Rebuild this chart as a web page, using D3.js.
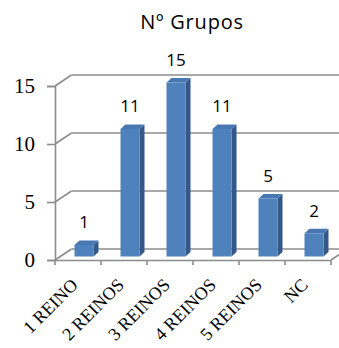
<!DOCTYPE html>
<html>
<head>
<meta charset="utf-8">
<script src="https://cdn.jsdelivr.net/npm/d3@7"></script>
<style>
  html, body { margin: 0; padding: 0; background: #fff; }
  svg { display: block; }
</style>
</head>
<body>
<svg id="chart" width="339" height="348"></svg>
<script>
// Number of groups per answer
const categories = ["1 REINO", "2 REINOS", "3 REINOS", "4 REINOS", "5 REINOS", "NC"];
const groups = [1, 11, 15, 11, 5, 2];
const yTicks = [0, 5, 10, 15];
const chartTitle = "Nº Grupos";

const SERIF = "'Liberation Serif', 'Times New Roman', serif";
const SANS = "'Open Sans', 'Noto Sans', sans-serif";

const svg = d3.select("#chart");
const W = 339, H = 348;

// Front plane of the 3D box
const x = d3.scaleBand().domain(categories).range([55, 331]).padding(0);
const y = d3.scaleLinear().domain([0, 15]).range([260, 86]);

// Depth offset of the back wall / floor
const dX = 16.5, dY = -11;
// Bars sit partway into the depth
const barShiftY = -3.5;
const barW = 19, barDX = 5, barDY = -4.5;

const grid = "#8c8c8c";

// Back wall gridlines and their diagonals to the front axis
const gl = svg.append("g");
yTicks.forEach(t => {
  gl.append("line")
    .attr("x1", x.range()[0] + dX).attr("x2", W + 10)
    .attr("y1", y(t) + dY).attr("y2", y(t) + dY)
    .attr("stroke", grid).attr("stroke-width", 1.6);
  gl.append("line")
    .attr("x1", x.range()[0]).attr("x2", x.range()[0] + dX)
    .attr("y1", y(t)).attr("y2", y(t) + dY)
    .attr("stroke", grid).attr("stroke-width", 1.6);
});

// Floor right edge
gl.append("line")
  .attr("x1", x.range()[1]).attr("y1", y(0))
  .attr("x2", x.range()[1] + dX).attr("y2", y(0) + dY)
  .attr("stroke", grid).attr("stroke-width", 1.6);

// Front vertical axis
const yAxis = d3.axisLeft(y).tickValues(yTicks).tickSize(8).tickPadding(12);
const ya = svg.append("g").attr("transform", `translate(${x.range()[0]},0)`).call(yAxis);
ya.attr("font-family", SERIF).attr("font-size", 21);
ya.select(".domain").attr("stroke", grid).attr("stroke-width", 1.6);
ya.selectAll(".tick line").attr("stroke", grid).attr("stroke-width", 1.6);
ya.selectAll(".tick text")
  .style("font-family", SERIF)
  .style("font-size", "21px")
  .attr("fill", "#000");

// Front horizontal axis with boundary ticks
const xa = svg.append("g");
xa.append("line")
  .attr("x1", x.range()[0]).attr("x2", x.range()[1])
  .attr("y1", y(0) + 0.5).attr("y2", y(0) + 0.5)
  .attr("stroke", grid).attr("stroke-width", 1.6);
const bounds = categories.map(c => x(c)).concat([x.range()[1]]);
xa.selectAll("line.b").data(bounds).enter().append("line")
  .attr("class", "b")
  .attr("x1", d => d).attr("x2", d => d)
  .attr("y1", y(0)).attr("y2", y(0) + 5)
  .attr("stroke", grid).attr("stroke-width", 1.6);

// Category labels, rotated
xa.selectAll("text").data(categories).enter().append("text")
  .attr("transform", d => `translate(${x(d) + x.bandwidth() / 2 + 1},${y(0) + 26}) rotate(-45)`)
  .attr("text-anchor", "end")
  .style("font-family", SERIF)
  .style("font-size", "18px")
  .attr("fill", "#000")
  .text(d => d);

// 3D bars
const data = categories.map((c, i) => ({ c, v: groups[i] }));
const bars = svg.append("g").selectAll("g").data(data).enter().append("g");
bars.each(function (d) {
  const g = d3.select(this);
  const x0 = x(d.c) + x.bandwidth() / 2 - 3.5;
  const x1 = x0 + barW;
  const yb = y(0) + barShiftY;
  const yt = y(d.v) + barShiftY;
  // side
  g.append("path")
    .attr("d", `M${x1},${yt}L${x1 + barDX},${yt + barDY}L${x1 + barDX},${yb + barDY}L${x1},${yb}Z`)
    .attr("fill", "#34588a");
  // top
  g.append("path")
    .attr("d", `M${x0},${yt}L${x0 + barDX},${yt + barDY}L${x1 + barDX},${yt + barDY}L${x1},${yt}Z`)
    .attr("fill", "#4877b2");
  // front
  g.append("rect")
    .attr("x", x0).attr("y", yt)
    .attr("width", barW).attr("height", yb - yt)
    .attr("fill", "#4f81bd");
});

// Value labels
svg.append("g").selectAll("text").data(data).enter().append("text")
  .attr("x", d => x(d.c) + x.bandwidth() / 2 + 6)
  .attr("y", d => y(d.v) - 20)
  .attr("text-anchor", "middle")
  .style("font-family", SANS)
  .style("font-size", "17px")
  .attr("fill", "#000")
  .text(d => d.v);

// Title
svg.append("text")
  .attr("x", 192).attr("y", 29)
  .attr("text-anchor", "middle")
  .style("font-family", SANS)
  .style("font-size", "20px")
  .style("letter-spacing", "0.8px")
  .attr("fill", "#000")
  .text(chartTitle);
</script>
</body>
</html>
